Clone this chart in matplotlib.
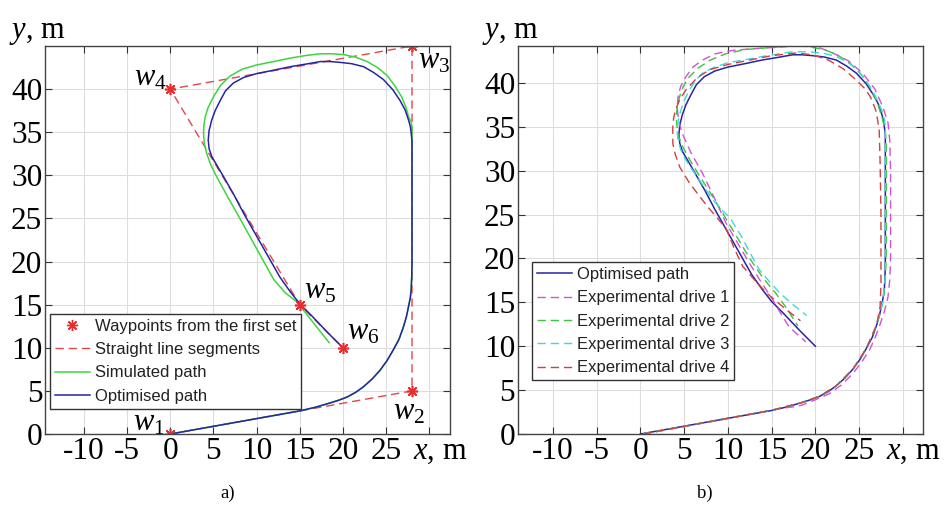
import numpy as np
import matplotlib
matplotlib.use('Agg')
import matplotlib.pyplot as plt

plt.rcParams['font.family'] = 'serif'
plt.rcParams['font.serif'] = ['Liberation Serif', 'DejaVu Serif']
plt.rcParams['mathtext.fontset'] = 'custom'
plt.rcParams['mathtext.rm'] = 'Liberation Serif'
plt.rcParams['mathtext.it'] = 'Liberation Serif:italic'

# waypoints from the first set
wp_x = [0, 28, 28, 0, 15, 20]
wp_y = [0, 5, 45, 40, 15, 10]
wp_names = ['$w_1$', '$w_2$', '$w_3$', '$w_4$', '$w_5$', '$w_6$']

# optimised path
opt_x = [0, 12.7, 15.0, 16.8, 18.5, 19.6, 20.5, 21.5, 22.4, 23.4, 24.3, 25.1, 25.8, 26.5, 27.0, 27.35,
         27.6, 27.8, 27.9, 27.97, 28.0, 28.0, 27.9, 27.8, 27.6, 27.2, 26.6, 25.8, 24.7, 23.6, 22.4,
         21.0, 19.7, 18.5, 17.4, 15.7, 13.9, 12.0, 10.0, 8.5, 7.3, 6.4, 5.8, 5.2, 4.8, 4.5, 4.4, 4.5,
         4.8, 6.2, 7.4, 8.5, 10.6, 12.7, 13.9, 15.0, 16.3, 18.2, 20.0]
opt_y = [0, 2.27, 2.68, 3.1, 3.6, 3.95, 4.3, 4.85, 5.5, 6.4, 7.4, 8.5, 9.7, 11.0, 12.4, 13.6,
         14.8, 15.8, 16.7, 18.3, 20.0, 34.0, 34.9, 35.7, 36.4, 37.6, 38.7, 39.9, 41.1, 41.9, 42.6,
         42.95, 43.1, 43.2, 43.2, 42.9, 42.6, 42.2, 41.8, 41.35, 40.7, 39.8, 38.7, 37.5, 36.4, 35.2, 34.1, 33.1,
         32.2, 29.8, 27.7, 25.6, 21.9, 18.2, 16.5, 15.1, 13.8, 11.8, 10.0]

# simulated path
sim_x = [0, 12.7, 15.0, 16.8, 18.5, 19.6, 20.5, 21.5, 22.4, 23.4, 24.3, 25.1, 25.8, 26.5, 27.0, 27.35,
         27.6, 27.8, 27.9, 27.97, 28.0, 28.0, 27.9, 27.6, 27.3, 26.8, 26.0, 25.1, 24.0, 22.8, 21.5,
         20.1, 18.8, 17.4, 15.7, 13.9, 12.0, 10.0, 8.3, 6.9, 5.8, 5.0, 4.4, 4.05, 3.9, 3.85, 3.95,
         4.2, 4.7, 5.4, 6.6, 7.9, 10.0, 11.0, 12.0, 13.3, 14.7, 16.5, 18.4]
sim_y = [0, 2.27, 2.68, 3.1, 3.6, 3.95, 4.3, 4.85, 5.5, 6.4, 7.4, 8.5, 9.7, 11.0, 12.4, 13.6,
         14.8, 15.8, 16.7, 18.3, 20.0, 35.6, 36.2, 36.8, 37.9, 39.1, 40.4, 41.6, 42.5, 43.2, 43.7,
         44.0, 44.1, 44.1, 43.9, 43.6, 43.2, 42.8, 42.3, 41.5, 40.4, 39.1, 37.9, 36.8, 35.8, 34.9, 33.7,
         32.6, 31.2, 29.8, 27.6, 25.3, 21.5, 19.7, 17.9, 16.4, 15.3, 13.0, 10.6]

# experimental drives
d1_x = [0.3, 10, 15.9, 17.5, 18.5, 20.0, 21.6, 23.0, 24.3, 25.3, 26.2, 26.8, 27.3, 27.9, 28.3, 28.5,
        28.6, 28.6, 28.5, 28.3, 27.7, 26.8, 25.4, 23.8, 22.0, 20.5, 19.0, 17.5, 16.3, 13.0, 10.5,
        8.5, 7.1, 6.0, 5.2, 4.6, 4.3, 4.2, 4.3, 4.5, 4.8, 5.8, 7.1, 8.4, 9.8, 11.2, 12.5, 13.8,
        15.0, 16.0, 17.0, 18.9]
d1_y = [0, 1.75, 2.9, 3.1, 3.3, 3.9, 4.6, 5.6, 6.9, 8.2, 9.6, 10.9, 12.2, 14.0, 15.6, 17.5,
        20, 30, 33.5, 35.5, 37.3, 39.3, 41.1, 42.5, 43.4, 44.0, 44.2, 44.2, 44.1, 43.9, 43.7,
        43.3, 42.6, 41.8, 40.7, 39.6, 38.4, 37.3, 36.3, 35.2, 34.2, 32.0, 29.7, 27.0, 24.0, 21.6, 19.4, 17.3,
        15.5, 13.8, 12.2, 10.5]
d2_x = [0.3, 10, 15, 18.5, 20.5, 22.4, 24.3, 25.8, 27.0, 27.7, 28.0, 28.1, 28.1, 28.0, 27.7, 27.1,
        26.2, 25.2, 24.0, 22.5, 21.0, 19.0, 17.0, 14.5, 12.0, 9.7, 8.0, 6.6, 5.5, 4.9, 4.5, 4.2,
        4.1, 4.2, 4.4, 4.8, 5.6, 7.0, 8.3, 9.5, 11.0, 12.5, 14.0, 15.5, 16.8, 18.0]
d2_y = [0, 1.8, 2.7, 3.6, 4.3, 5.5, 7.4, 9.7, 12.4, 15, 17.5, 20, 33, 34.5, 35.8, 37.7,
        39.6, 41.0, 42.2, 43.2, 43.8, 44.15, 44.2, 44.0, 43.8, 43.3, 42.6, 41.7, 40.6, 39.6, 38.5, 37.2,
        36, 34.8, 33.8, 32.8, 31.3, 29, 27, 25, 22.5, 20, 17.8, 16, 14.2, 12.3]
d3_x = [0.3, 10, 15, 18.5, 20.5, 22.4, 24.3, 25.8, 27.0, 27.7, 28.0, 28.0, 27.9, 27.7, 27.2, 26.6,
        25.7, 24.7, 23.6, 22.4, 21.0, 19.7, 18.3, 17.0, 15.5, 13.9, 11.8, 10.0, 8.5, 7.2, 6.3, 5.6,
        5.0, 4.6, 4.3, 4.2, 4.3, 4.6, 5.2, 6.0, 7.1, 8.2, 9.2, 10.2, 11.5, 12.5, 13.6, 14.8, 16.0,
        17.5, 19.0]
d3_y = [0, 1.8, 2.7, 3.6, 4.3, 5.5, 7.4, 9.7, 12.4, 15, 18, 35, 35.8, 36.6, 37.8, 39.0,
        40.4, 41.6, 42.4, 43.0, 43.35, 43.5, 43.55, 43.5, 43.25, 43.0, 42.6, 42.3, 41.8, 41.2, 40.3, 39.2,
        38.0, 36.8, 35.6, 34.4, 33.4, 32.4, 31.2, 30.0, 28.4, 26.8, 25.6, 24.7, 22.6, 20.7, 18.7, 17.3, 16.0,
        14.7, 13.5]
d4_x = [0.3, 10, 15, 18.5, 20.5, 22.4, 24.3, 25.8, 27.0, 27.4, 27.5, 27.5, 27.4, 27.3, 27.1, 26.9,
        26.3, 25.6, 24.7, 23.2, 21.5, 19.7, 17.8, 15.0, 12.5, 10.0, 7.9, 6.5, 5.2, 4.5, 4.0, 3.8,
        3.7, 3.7, 4.0, 4.5, 5.6, 7.6, 9.8, 10.7, 11.7, 13.0, 14.5, 16.4, 18.3]
d4_y = [0, 1.8, 2.7, 3.6, 4.3, 5.5, 7.4, 9.7, 12.4, 14.5, 17, 25, 31, 34.6, 35.9, 36.9,
        38.4, 39.4, 40.3, 41.6, 42.6, 43.2, 43.4, 43.1, 42.6, 42.1, 41.5, 40.6, 39.2, 38.1, 36.9, 36.0,
        35.0, 33.1, 31.8, 30.4, 28.6, 26.0, 23.4, 21.2, 19.1, 17.6, 16.0, 14.4, 12.9]

x_ticks = [-10, -5, 0, 5, 10, 15, 20, 25, 30]
x_ticklabels = ['-10', '-5', '0', '5', '10', '15', '20', '25', '']
y_ticks = [0, 5, 10, 15, 20, 25, 30, 35, 40]

blue = '#2525a5'
dash = (0, (6, 3.5))


def style_axes(ax, xlim, ylim):
    ax.set_xlim(xlim)
    ax.set_ylim(ylim)
    ax.set_xticks(x_ticks)
    ax.set_xticklabels(x_ticklabels)
    ax.set_yticks(y_ticks)
    ax.grid(True, color='#dddddd', lw=0.8)
    ax.set_axisbelow(True)
    ax.tick_params(direction='in', length=5, width=0.8, top=True, right=True,
                   labelsize=22.5, pad=2, colors='#333333', labelcolor='black')
    for s in ax.spines.values():
        s.set_color('#444444')
        s.set_linewidth(1.0)
    ax.text(-0.09, 1.035, '$y$, m', transform=ax.transAxes, fontsize=22,
            ha='left', va='center')
    ax.text(0.908, -0.045, '$x$, m', transform=ax.transAxes, fontsize=22,
            ha='left', va='center')


def style_legend(leg):
    leg.get_frame().set_linewidth(1.0)
    for t in leg.get_texts():
        t.set_color('#222222')


fig = plt.figure(figsize=(9.44, 5.09), dpi=100)

# a)
ax1 = fig.add_axes([0.0477, 0.1473, 0.429, 0.7623])
ax1.plot(wp_x, wp_y, ls='none', marker=(8, 2, 0), ms=8, mec='#e03030', mew=1.0,
         label='Waypoints from the first set')
ax1.plot(wp_x, wp_y, ls=dash, color='#e04848', lw=1.0, label='Straight line segments')
ax1.plot(sim_x, sim_y, color='#3fd43f', lw=1.1, label='Simulated path')
ax1.plot(opt_x, opt_y, color=blue, lw=1.1, label='Optimised path')
ax1.plot(wp_x, wp_y, ls='none', marker=(8, 2, 0), ms=8, mec='#e03030', mew=1.0)
style_axes(ax1, (-14.5, 32.4), (0, 45))

name_pos_x = [-4.3, 25.8, 28.7, -4.2, 15.5, 20.5]
name_pos_y = [1.3, 2.6, 43.3, 41.3, 16.6, 11.8]
for nm, tx, ty in zip(wp_names, name_pos_x, name_pos_y):
    ax1.text(tx, ty, nm, fontsize=22, ha='left', va='center', clip_on=False)

leg1 = ax1.legend(loc='upper left', bbox_to_anchor=(0.012, 0.31), prop={'family': 'Liberation Sans', 'size': 12},
                  frameon=True, fancybox=False, edgecolor='#333333', framealpha=1,
                  handlelength=2.1, handletextpad=0.3, labelspacing=0.5, borderpad=0.3,
                  borderaxespad=0)
style_legend(leg1)

# b)
ax2 = fig.add_axes([0.5487, 0.1473, 0.429, 0.7623])
ax2.plot(opt_x, opt_y, color=blue, lw=1.1, label='Optimised path')
ax2.plot(d1_x, d1_y, ls=dash, color='#d452d4', lw=1.0, label='Experimental drive 1')
ax2.plot(d2_x, d2_y, ls=dash, color='#40c040', lw=1.0, label='Experimental drive 2')
ax2.plot(d3_x, d3_y, ls=dash, color='#40d8d8', lw=1.0, label='Experimental drive 3')
ax2.plot(d4_x, d4_y, ls=dash, color='#d04040', lw=1.0, label='Experimental drive 4')
style_axes(ax2, (-14.0, 32.3), (0, 44.2))

leg2 = ax2.legend(loc='upper left', bbox_to_anchor=(0.034, 0.443), prop={'family': 'Liberation Sans', 'size': 12},
                  frameon=True, fancybox=False, edgecolor='#333333', framealpha=1,
                  handlelength=2.1, handletextpad=0.3, labelspacing=0.5, borderpad=0.3,
                  borderaxespad=0)
style_legend(leg2)

fig.text(228 / 944, 1 - 493 / 509, 'a)', fontsize=13.5, ha='center', va='center')
fig.text(705 / 944, 1 - 493 / 509, 'b)', fontsize=13.5, ha='center', va='center')

fig.savefig('out.png', dpi=100)
